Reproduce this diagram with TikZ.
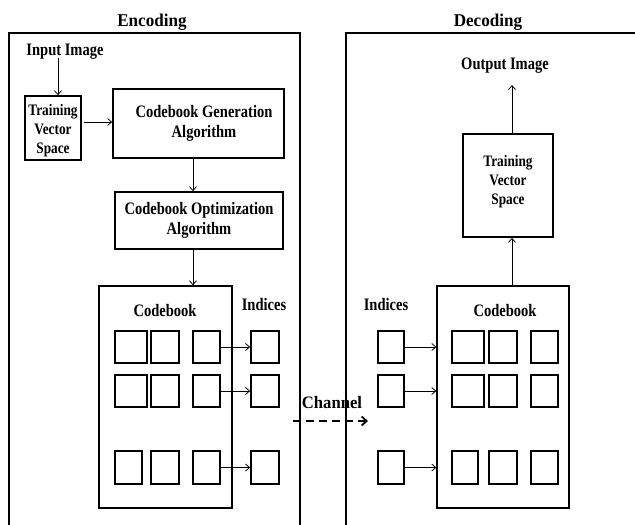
\documentclass[tikz,border=0pt]{standalone}
\usepackage{fontspec}
\setmainfont{Liberation Serif}[FakeStretch=0.83]
\newfontfamily\titlefont{Liberation Serif}[FakeStretch=0.95]
\usetikzlibrary{arrows.meta}
\begin{document}
\begin{tikzpicture}[x=1pt,y=-1pt,
  txt/.style={font=\fontsize{17.5}{20}\selectfont\bfseries, align=center, inner sep=0pt, yshift=-2.5pt},
  small/.style={font=\fontsize{16}{19}\selectfont\bfseries, align=center, inner sep=0pt, yshift=-1.5pt},
  ttl/.style={font=\titlefont\fontsize{18}{20}\selectfont\bfseries, inner sep=0pt, yshift=-2pt},
  box/.style={draw, line width=1.6pt, inner sep=0pt},
  bigbox/.style={draw, line width=1.3pt, inner sep=0pt},
  sq/.style={draw, line width=1.8pt, inner sep=0pt, minimum height=32pt},
  arr/.style={-{Straight Barb[length=4pt,width=7pt]}, line width=0.8pt},
  frame/.style={line width=1.4pt}]
\useasboundingbox (0,0) rectangle (635,525);
% frames
\draw[frame] (9,525) -- (9,33) -- (300,33) -- (300,525);
\draw[frame] (346,525) -- (346,33) -- (635,33);
\node[ttl] (enc) at (152,20) {Encoding};
\node[ttl] (dec) at (488,20) {Decoding};
% encoding
\node[txt] (inp) at (65,49) {Input Image};
\node[box, minimum width=56pt, minimum height=64pt] (tvsL) at (53,128) {};
\node[small] at (53,129) {Training\\Vector\\Space};
\node[box, minimum width=171pt, minimum height=69pt] (cgen) at (198.5,123.5) {};
\node[txt] at (204,121) {Codebook Generation\\Algorithm};
\node[box, minimum width=168pt, minimum height=57pt] (copt) at (199,220.5) {};
\node[txt] at (199,218) {Codebook Optimization\\Algorithm};
\node[bigbox, minimum width=133pt, minimum height=222pt] (cbL) at (165.5,397) {};
\node[txt] (cbLt) at (165,308) {Codebook};
\node[txt] (indL) at (264,302) {Indices};
% squares left
\node[sq, minimum width=32pt] (l11) at (131,347) {};
\node[sq, minimum width=28pt] (l12) at (165,347) {};
\node[sq, minimum width=27pt] (l13) at (206.5,347) {};
\node[sq, minimum width=28pt] (li1) at (265,347) {};
\node[sq, minimum width=32pt] (l21) at (131,391) {};
\node[sq, minimum width=28pt] (l22) at (165,391) {};
\node[sq, minimum width=27pt] (l23) at (206.5,391) {};
\node[sq, minimum width=28pt] (li2) at (265,391) {};
\node[sq, minimum width=27pt, minimum height=33pt] (l31) at (128.5,467.5) {};
\node[sq, minimum width=28pt, minimum height=33pt] (l32) at (165,467.5) {};
\node[sq, minimum width=27pt, minimum height=33pt] (l33) at (206.5,467.5) {};
\node[sq, minimum width=28pt, minimum height=33pt] (li3) at (265,467.5) {};
\draw[arr] (l13.east) -- (li1.west);
\draw[arr] (l23.east) -- (li2.west);
\draw[arr] (l33.east) -- (li3.west);
% encoding arrows
\coordinate (a1) at (58,58);
\draw[arr] (a1) -- (a1 |- tvsL.north);
\coordinate (a2) at (84,122);
\draw[arr] (a2) -- (a2 -| cgen.west);
\coordinate (ax) at (193,0);
\draw[arr] (ax |- cgen.south) -- (ax |- copt.north);
\draw[arr] (ax |- copt.south) -- (ax |- cbL.north);
% channel
\node[txt, font=\titlefont\fontsize{17.5}{20}\selectfont\bfseries] (chan) at (332,400) {Channel};
\coordinate (c1) at (293,421);
\coordinate (c2) at (368,421);
\draw[line width=1.8pt, dash pattern=on 8pt off 5pt, -{Straight Barb[length=5pt,width=9pt]}] (c1) -- (c2);
% decoding
\node[txt] (outp) at (505,63) {Output Image};
\node[box, minimum width=90pt, minimum height=103pt] (tvsR) at (508,185.5) {};
\node[small] at (508,180) {Training\\Vector\\Space};
\node[bigbox, minimum width=132pt, minimum height=222pt] (cbR) at (503,397) {};
\node[txt] (cbRt) at (505,308) {Codebook};
\node[txt] (indR) at (386,302) {Indices};
\node[sq, minimum width=26pt] (ri1) at (391,347) {};
\node[sq, minimum width=32pt] (r11) at (468,347) {};
\node[sq, minimum width=28pt] (r12) at (503,347) {};
\node[sq, minimum width=27pt] (r13) at (544.5,347) {};
\node[sq, minimum width=26pt] (ri2) at (391,391) {};
\node[sq, minimum width=32pt] (r21) at (468,391) {};
\node[sq, minimum width=28pt] (r22) at (503,391) {};
\node[sq, minimum width=27pt] (r23) at (544.5,391) {};
\node[sq, minimum width=26pt, minimum height=33pt] (ri3) at (391,467.5) {};
\node[sq, minimum width=26pt, minimum height=33pt] (r31) at (465,467.5) {};
\node[sq, minimum width=28pt, minimum height=33pt] (r32) at (503,467.5) {};
\node[sq, minimum width=27pt, minimum height=33pt] (r33) at (544.5,467.5) {};
\draw[arr] (ri1.east) -- (ri1.east -| cbR.west);
\draw[arr] (ri2.east) -- (ri2.east -| cbR.west);
\draw[arr] (ri3.east) -- (ri3.east -| cbR.west);
\coordinate (bx) at (512,0);
\draw[arr] (bx |- cbR.north) -- (bx |- tvsR.south);
\coordinate (b2) at (512,85);
\draw[arr] (b2 |- tvsR.north) -- (b2);
\end{tikzpicture}
\end{document}
